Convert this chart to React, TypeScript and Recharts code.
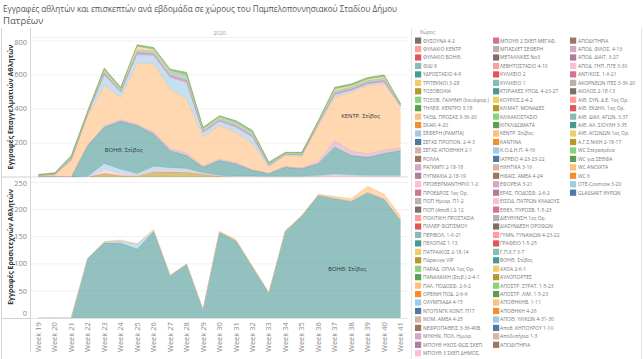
import React from 'react';
import { AreaChart, Area, XAxis, YAxis, CartesianGrid, ReferenceDot } from 'recharts';

// ---------- data ----------
const weeks = ['Week 19','Week 20','Week 21','Week 22','Week 23','Week 24','Week 25','Week 26','Week 27','Week 28','Week 29','Week 30','Week 31','Week 32','Week 33','Week 34','Week 35','Week 36','Week 37','Week 38','Week 39','Week 40','Week 41'];

// Εγγραφές Επαγγελματιών Αθλητών (stack order bottom -> top)
const proToksovolia = [0,0,0,0,20,8,5,30,30,28,15,5,0,0,0,0,0,0,0,0,0,0,0];
const proProtherm = [3,3,0,0,25,12,5,8,10,10,5,3,3,3,2,2,2,5,10,8,5,5,5];
const proKodip = [0,0,0,5,35,25,10,25,15,12,5,3,3,3,2,2,2,5,8,5,5,5,5];
const proBoith = [0,0,0,180,212,282,282,190,100,76,32,86,71,32,15,53,44,68,157,113,106,128,145];
const proRagkmpi = [2,2,2,5,8,10,8,12,12,15,8,8,8,6,4,6,6,12,40,25,20,20,15];
const proKentr = [5,10,95,170,237,131,360,399,350,318,172,197,178,151,34,63,66,212,253,346,401,389,243];
const proSeferi = [0,0,5,12,63,30,50,50,70,95,25,25,30,40,10,5,8,10,15,12,10,12,5];
const proProedros = [0,0,3,3,10,5,12,10,10,15,5,6,8,8,4,3,3,4,10,8,8,8,3];
const proPerivol = [2,4,10,6,15,12,15,17,22,25,12,14,15,15,8,5,6,6,14,12,12,13,4];
const proPatraikos = [0,0,3,2,5,4,20,10,5,6,5,5,5,5,2,2,3,4,10,8,8,10,2];
const proPanachaiki = [3,6,8,7,10,8,10,10,10,15,8,8,10,10,6,4,5,5,10,10,10,10,3];

// Εγγραφές Ερασιτεχνών Αθλητών
const amBoith = [0,0,0,110,138,138,127,159,78,99,15,158,142,94,46,160,188,226,220,215,231,219,180];
const amKodip = [0,0,0,0,2,4,9,2,0,0,0,0,0,0,0,0,0,0,0,0,0,0,0];
const amKentr = [0,0,0,0,1,2,1,2,1,1,0,2,3,2,1,1,1,2,4,5,12,9,8];

const proTicks = [0,100,200,300,400,500,600,700,800];
const amTicks = [0,50,100,150,200,250];

const legendCol1 = ['ΦΥΣΟΥΝΑ 4-2','ΦΥΛΑΚΙΟ ΚΕΝΤΡ.','ΦΥΛΑΚΙΟ ΒΟΗΘ.','ΦΙΔΙ 9','ΥΔΡΟΣΤΑΣΙΟ 4-9','ΤΡΙΤΕΚΝΟΙ 3-28','ΤΟΞΟΒΟΛΙΑ','ΤΟΞΟΒ. ΓΑΛΗΝΗ (λουόφορ.)','ΤΗΛΕΦ. ΚΕΝΤΡΟ 3.18','ΤΑΞΙΔ. ΠΡΟΖΑΣ 3-36-20','ΣΚΑΚΙ 4-20','ΣΕΦΕΡΗ (ΡΑΜΠΑ)','ΣΕΓΑΣ ΠΡΟΠΟΝ. 2-4-3','ΣΕΓΑΣ ΑΠΟΘΗΚΗ 2-1','ΡΟΛΛΑ','ΡΑΓΚΜΠΙ 2-18-18','ΠΥΓΜΑΧΙΑ 2-18-19','ΠΡΟΘΕΡΜΑΝΤΗΡΙΟ 1-2','ΠΡΟΕΔΡΟΣ 1ος Ορ.','ΠΟΠ Ημιορ. Π1-2','ΠΟΠ (Αποθ.) 2-12','ΠΟΛΙΤΙΚΗ ΠΡΟΣΤΑΣΙΑ','ΠΙΛΛΕΡ ΦΩΤΙΣΜΟΥ','ΠΕΡΙΒΟΛ. 1-6-21','ΠΕΛΟΠΑΣ 1-13','ΠΑΤΡΑΙΚΟΣ 2-18-14','Πάρκινγκ VIP','ΠΑΡΑΔ. ΟΠΛΑ 1ος Ορ.','ΠΑΝΑΧΑΙΚΗ (Στιβ.) 2-4-1','ΠΑΛ. ΠΟΔΟΣΦ. 2-6-2','ΟΡΕΙΝΗ ΠΟΔ. 2-6-6','ΟΛΥΜΠΙΑΔΑ 4-15','ΝΤΟΠΙΝΓΚ ΚΟΝΤ. Π17','ΝΟΜ. ΑΜΕΑ 4-25','ΝΕΦΡΟΠΑΘΕΙΣ 3-36-40Β','ΜΥΚΗΝ. ΠΟΛ. Ημιορ.','ΜΠΟΥΘ ΗΧΟΣ-ΦΩΣ ΣΚΕΠ.','ΜΠΟΥΘ 3 ΣΚΕΠ ΔΗΜΟΣ.'];
const legendCol2 = ['ΜΠΟΥΘ 2 ΣΚΕΠ ΜΕΓΑΦ.','ΜΠΑΣΚΕΤ ΣΕΦΕΡΗ','ΜΕΤΑΛΛΙΚΕΣ Νο3','ΛΕΒΗΤΟΣΤΑΣΙΟ 4-10','ΚΥΛΙΚΕΙΟ 2','ΚΥΛΙΚΕΙΟ 1','ΚΤΙΡΙΑΚΕΣ ΥΠΟΔ. 4-23-27','ΚΟΥΡΟΣ 2-4-2','ΚΛΙΜΑΤ. ΜΟΝΑΔΕΣ','ΚΛΙΚΑΚΟΣΤΑΣΙΟ','ΚΙΓΚΛΙΔΩΜΑΤΑ','ΚΕΝΤΡ. Στίβος','ΚΑΝΤΙΝΑ','Κ.Ο.Δ.Η.Π. 4-16','ΙΑΤΡΕΙΟ 4-23-23-22','ΗΧΗΤΙΚΑ 3-16','ΗΦΑΙΣ. ΑΜΕΑ 4-24','ΕΦΟΡΕΙΑ 3-21','ΕΡΑΣ. ΠΟΔΟΣΦ. 2-6-2','ΕΙΣΟΔ. ΠΑΤΡΩΝ ΚΛΑΔΟΥΣ','ΕΘΕΛ. ΠΥΡΟΣΒ. 1-5-23','ΔΙΕΥΘΥΝΣΗ 1ος Ορ.','ΔΙΑΣΥΝΔΕΣΗ ΟΡΟΦΩΝ','ΓΥΜΝ. ΓΥΝΑΙΚΩΝ 4-23-22','ΓΡΑΦΕΙΟ 1-5-25','Γ.Π.Χ.Τ 3-7','ΒΟΗΘ. Στίβος','ΑΧΟΑ 2-6-1','ΑΥΛΟΠΟΡΤΕΣ','ΑΠΟΣΤΡ. ΣΤΡΑΤ. 1-5-23','ΑΠΟΣΤΡ. ΛΙΜ. 1-5-23','ΑΠΟΘΗΚΗΒ. 1-11','ΑΠΟΘΗΚΗ 4-26','ΑΠΟΘ. ΥΛΙΚΩΝ 4-31-30','Αποθ. ΚΗΠΟΥΡΟΥ 1-10','Αποδυτήρια 1-3','ΑΠΟΔΥΤΗΡΙΑ'];
const legendCol3 = ['ΑΠΟΔΥΤΗΡΙΑ','ΑΠΟΔ. ΦΙΛΟΣ. 4-13','ΑΠΟΔ. ΔΙΑΙΤ. 3-27','ΑΠΟΔ. ΓΗΠ. ΠΓΕ 3-30','ΑΝΤ/ΚΟΣ. 1-6-21','ΑΚΟΡΝΕΩΝ ΙΤΕΣ 3-36-20','ΑΙΟΛΟΣ 2-18-13','ΑΙΘ. ΣΥΝ. Δ.Ε. 1ος Ορ.','ΑΙΘ. ΕΚΔΗΛ. 1ος Ορ.','ΑΙΘ. ΔΙΑΧ. ΑΓΩΝ. 3.37','ΑΙΘ. ΑΛ. ΣΙΟΥΛΗ 3-35','ΑΙΘ. ΑΓΩΝΩΝ 1ος Ορ.','Α.Γ.Σ ΝΙΚΗ 2-18-17','WC Στεγασμένα','WC για ΣΕΘΦΑ','WC ΑΝΟΙΧΤΑ','WC 6','OTE-Cosmote 3-20','GLASSART ΘΥΡΩΝ'];

const title1 = 'Εγγραφές αθλητών και επισκεπτών ανά εβδομάδα σε χώρους του Παμπελοποννησιακού Σταδίου Δήμου';
const title2 = 'Πατρέων';
const proTitle = 'Εγγραφές Επαγγελματιών Αθλητών';
const amTitle = 'Εγγραφές Ερασιτεχνών Αθλητών';
const yearLabel = '2020';
const legendTitle = 'Χώρος';

// ---------- styling helpers ----------
const PALETTE = ['#4E79A7','#A0CBE8','#F28E2B','#FFBE7D','#59A14F','#8CD17D','#B6992D','#F1CE63','#499894','#86BCB6','#E15759','#FF9D9A','#79706E','#BAB0AC','#D37295','#FABFD2','#B07AA1','#D4A6C8','#9D7660','#D7B5A6'];
const FONT = "'Open Sans', 'Noto Sans', sans-serif";
const colorAt = (p: number) => PALETTE[(((12 - p) % 20) + 20) % 20];
const firstCols = [...legendCol1, ...legendCol2];
const colorOf = (name: string) => colorAt(firstCols.indexOf(name));

const proSeries = [
  { name: 'ΤΟΞΟΒΟΛΙΑ', values: proToksovolia },
  { name: 'ΠΡΟΘΕΡΜΑΝΤΗΡΙΟ 1-2', values: proProtherm },
  { name: 'Κ.Ο.Δ.Η.Π. 4-16', values: proKodip },
  { name: 'ΒΟΗΘ. Στίβος', values: proBoith },
  { name: 'ΡΑΓΚΜΠΙ 2-18-18', values: proRagkmpi },
  { name: 'ΚΕΝΤΡ. Στίβος', values: proKentr },
  { name: 'ΣΕΦΕΡΗ (ΡΑΜΠΑ)', values: proSeferi },
  { name: 'ΠΡΟΕΔΡΟΣ 1ος Ορ.', values: proProedros },
  { name: 'ΠΕΡΙΒΟΛ. 1-6-21', values: proPerivol },
  { name: 'ΠΑΤΡΑΙΚΟΣ 2-18-14', values: proPatraikos },
  { name: 'ΠΑΝΑΧΑΙΚΗ (Στιβ.) 2-4-1', values: proPanachaiki },
];
const amSeries = [
  { name: 'ΒΟΗΘ. Στίβος', values: amBoith },
  { name: 'Κ.Ο.Δ.Η.Π. 4-16', values: amKodip },
  { name: 'ΚΕΝΤΡ. Στίβος', values: amKentr },
];

const buildRows = (series: { name: string; values: number[] }[]) =>
  weeks.map((w, i) => {
    const row: Record<string, any> = { week: w };
    series.forEach((s, k) => { row['s' + k] = s.values[i]; });
    return row;
  });
const proRows = buildRows(proSeries);
const amRows = buildRows(amSeries);

const cumAt = (series: { values: number[] }[], upto: number, wi: number) =>
  series.slice(0, upto + 1).reduce((a, s) => a + s.values[wi], 0);

const YTick = (shiftZero: number, maxTick: number) => (props: any) => {
  const { x, y, payload } = props;
  let dy = 2.5;
  if (payload.value === 0) dy = shiftZero;
  if (payload.value === maxTick) dy = 4;
  return (
    <text x={x} y={y} dy={dy} textAnchor="end" fontSize={7.5} fill="#8a8a8a" fontFamily={FONT}>
      {payload.value}
    </text>
  );
};

const WeekTick = (props: any) => {
  const { x, y, payload } = props;
  return (
    <text x={x} y={y} dy={2.6} transform={`rotate(-90, ${x}, ${y})`} textAnchor="end" fontSize={7.5} fill="#8a8a8a" fontFamily={FONT}>
      {payload.value}
    </text>
  );
};

const areaLabel = (text: string, dx: number) => (props: any) => {
  const { viewBox } = props;
  const cx = viewBox.x + (viewBox.width || 0) / 2 + dx;
  const cy = viewBox.y + (viewBox.height || 0) / 2;
  return (
    <text x={cx} y={cy} dy={2} textAnchor="middle" fontSize={5.8} fill="#333" fontFamily={FONT}>
      {text}
    </text>
  );
};

const PLOT_L = 31;
const PLOT_R = 408;
const PAD = 7.4;

export default function App() {
  const rowH = 8.45;
  const legendCols = [
    { items: legendCol1, sx: 415, tx: 423, offset: 0 },
    { items: legendCol2, sx: 493, tx: 500, offset: legendCol1.length },
    { items: legendCol3, sx: 570, tx: 578, offset: legendCol1.length + legendCol2.length - 1 },
  ];
  return (
    <div style={{ position: 'absolute', left: 0, top: 0, width: 644, height: 359, background: '#fff', overflow: 'hidden' }}>
      {/* frame, headers, titles, legend */}
      <svg width={644} height={359} style={{ position: 'absolute', left: 0, top: 0 }}>
        <text x={3} y={12} fontSize={9.6} fill="#555" fontFamily={FONT} textLength={394} lengthAdjust="spacingAndGlyphs">{title1}</text>
        <text x={3} y={24} fontSize={9.6} fill="#555" fontFamily={FONT}>{title2}</text>
        {/* frame lines */}
        <line x1={1.5} y1={28} x2={1.5} y2={359} stroke="#d6d6d6" strokeWidth={1} />
        <line x1={30.5} y1={28} x2={30.5} y2={352} stroke="#d6d6d6" strokeWidth={1} />
        <line x1={PLOT_L} y1={37.5} x2={PLOT_R} y2={37.5} stroke="#e2e2e2" strokeWidth={1} />
        <line x1={2} y1={177} x2={PLOT_R} y2={177} stroke="#d0d0d0" strokeWidth={1} />
        <line x1={2} y1={318.5} x2={PLOT_R} y2={318.5} stroke="#d0d0d0" strokeWidth={1} />
        <text x={(PLOT_L + PLOT_R) / 2} y={35} textAnchor="middle" fontSize={5.5} fill="#999" fontFamily={FONT}>{yearLabel}</text>
        <text x={10} y={107} transform="rotate(-90, 10, 107)" dy={2.5} textAnchor="middle" fontSize={7} fontWeight="bold" fill="#333" fontFamily={FONT}>{proTitle}</text>
        <text x={10} y={247} transform="rotate(-90, 10, 247)" dy={2.5} textAnchor="middle" fontSize={7} fontWeight="bold" fill="#333" fontFamily={FONT}>{amTitle}</text>
        {/* legend */}
        <line x1={411.5} y1={28} x2={411.5} y2={359} stroke="#e4e4e4" strokeWidth={1} />
        <line x1={641.5} y1={28} x2={641.5} y2={359} stroke="#e4e4e4" strokeWidth={1} />
        <text x={420} y={34} fontSize={5} fill="#888" fontFamily={FONT}>{legendTitle}</text>
        {legendCols.map((col, c) =>
          col.items.map((name, i) => {
            const cy = 40.7 + i * rowH;
            return (
              <g key={c + '-' + i}>
                <rect x={col.sx} y={cy - 3.2} width={6.2} height={6.2} fill={colorAt(col.offset + i)} />
                <text x={col.tx} y={cy + 1.8} fontSize={5} fill="#777" fontFamily={FONT}>{name}</text>
              </g>
            );
          })
        )}
      </svg>

      {/* top pane */}
      <div style={{ position: 'absolute', left: 0, top: 0 }}>
        <AreaChart width={410} height={180} data={proRows} margin={{ top: 37.5, right: 410 - PLOT_R, bottom: 3, left: 0 }}>
          <CartesianGrid horizontal vertical={false} stroke="#f1f1f1" />
          <XAxis dataKey="week" hide padding={{ left: PAD, right: PAD }} />
          <YAxis width={PLOT_L} domain={[0, 820]} ticks={proTicks} tickSize={0} tickMargin={4} axisLine={false} tickLine={false} tick={YTick(-0.5, 800)} allowDataOverflow />
          {proSeries.map((s, k) => (
            <Area key={k} type="linear" dataKey={'s' + k} name={s.name} stackId="a" fill={colorOf(s.name)} fillOpacity={0.6} stroke={colorOf(s.name)} strokeWidth={0.6} strokeOpacity={0.85} dot={false} activeDot={false} isAnimationActive={false} />
          ))}
          <ReferenceDot x="Week 24" y={cumAt(proSeries, 2, 5) + proBoith[5] * 0.4} r={0} label={areaLabel('ΒΟΗΘ. Στίβος', 3)} />
          <ReferenceDot x="Week 39" y={cumAt(proSeries, 4, 20) + proKentr[20] * 0.55} r={0} label={areaLabel('ΚΕΝΤΡ. Στίβος', -7)} />
        </AreaChart>
      </div>

      {/* bottom pane */}
      <div style={{ position: 'absolute', left: 0, top: 0 }}>
        <AreaChart width={410} height={359} data={amRows} margin={{ top: 177.5, right: 410 - PLOT_R, bottom: 0.8, left: 0 }}>
          <CartesianGrid horizontal vertical={false} stroke="#f1f1f1" />
          <XAxis dataKey="week" height={40} padding={{ left: PAD, right: PAD }} interval={0} tickSize={0} tickMargin={4} axisLine={false} tickLine={false} tick={WeekTick} />
          <YAxis width={PLOT_L} domain={[0, 259]} ticks={amTicks} tickSize={0} tickMargin={4} axisLine={false} tickLine={false} tick={YTick(-2, 250)} allowDataOverflow />
          {amSeries.map((s, k) => (
            <Area key={k} type="linear" dataKey={'s' + k} name={s.name} stackId="b" fill={colorOf(s.name)} fillOpacity={0.6} stroke={colorOf(s.name)} strokeWidth={0.6} strokeOpacity={0.85} dot={false} activeDot={false} isAnimationActive={false} />
          ))}
          <ReferenceDot x="Week 38" y={90} r={0} label={areaLabel('ΒΟΗΘ. Στίβος', -4)} />
        </AreaChart>
      </div>
    </div>
  );
}
